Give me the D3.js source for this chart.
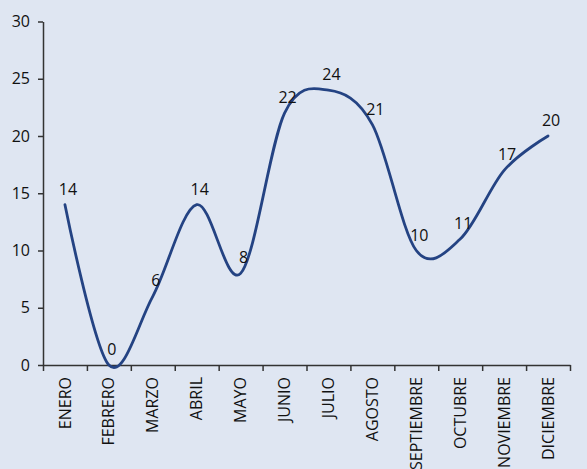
<!DOCTYPE html>
<html>
<head>
<meta charset="utf-8">
<script src="https://cdn.jsdelivr.net/npm/d3@7"></script>
<style>
	body { margin: 0; background: #dfe6f2; }
	svg { display: block; }
	.axis text { font-family: "Open Sans", sans-serif; font-size: 16px; fill: #111; }
	.axis path, .axis line { stroke: #333; stroke-width: 1.5px; }
	.point-label { font-family: "Open Sans", sans-serif; font-size: 16px; fill: #111; }
</style>
</head>
<body>
<svg class="chart" width="587" height="469"></svg>
<script>

var months = ["ENERO", "FEBRERO", "MARZO", "ABRIL", "MAYO", "JUNIO", "JULIO",
	"AGOSTO", "SEPTIEMBRE", "OCTUBRE", "NOVIEMBRE", "DICIEMBRE"];
var values = [14, 0, 6, 14, 8, 22, 24, 21, 10, 11, 17, 20];
var yTicks = [0, 5, 10, 15, 20, 25, 30];

var svg = d3.select(".chart")

svg.append("rect")
	.attr("width", 587)
	.attr("height", 469)
	.attr("fill", "#dfe6f2")

var x = d3.scaleBand()
	.domain(months)
	.range([43, 570])
	.padding(0);

// boundaries between months, for the tick marks
var xb = d3.scaleLinear()
	.domain([0, months.length])
	.range(x.range());

var y = d3.scaleLinear()
	.domain([0, 30])
	.range([365, 21.5]);

// y axis
svg.append("g")
	.attr("class", "axis")
	.attr("transform", "translate(" + 43 + ",0)")
	.call(d3.axisLeft(y).tickValues(yTicks).tickSize(5).tickSizeOuter(0).tickPadding(8))

// x axis ticks at month boundaries
svg.append("g")
	.attr("class", "axis")
	.attr("transform", "translate(0," + 365 + ")")
	.call(d3.axisBottom(xb).ticks(months.length).tickSize(6).tickSizeOuter(0).tickFormat(""))

// month labels
var xAxis = svg.append("g")
	.attr("class", "axis")
	.attr("transform", "translate(0," + 365 + ")")
	.call(d3.axisBottom(x).tickSize(0))
xAxis.select(".domain").remove()
xAxis.selectAll("text")
	.attr("transform", "rotate(-90)")
	.attr("text-anchor", "end")
	.attr("x", -12)
	.attr("y", 0)
	.attr("dy", "0.35em")

var line = d3.line()
	.x(function(d, i) { return x(months[i]) + x.bandwidth() / 2; })
	.y(function(d) { return y(d); })
	.curve(d3.curveCardinal.tension(0));

svg.append("path")
	.datum(values)
	.attr("fill", "none")
	.attr("stroke", "#244383")
	.attr("stroke-width", 2.8)
	.attr("stroke-linecap", "round")
	.attr("d", line)

svg.selectAll(".point-label")
	.data(values)
	.enter().append("text")
	.attr("class", "point-label")
	.attr("text-anchor", "middle")
	.attr("x", function(d, i) { return x(months[i]) + x.bandwidth() / 2 + 3; })
	.attr("y", function(d) { return y(d) - 10; })
	.text(function(d) { return d; })

</script>
</body>
</html>
